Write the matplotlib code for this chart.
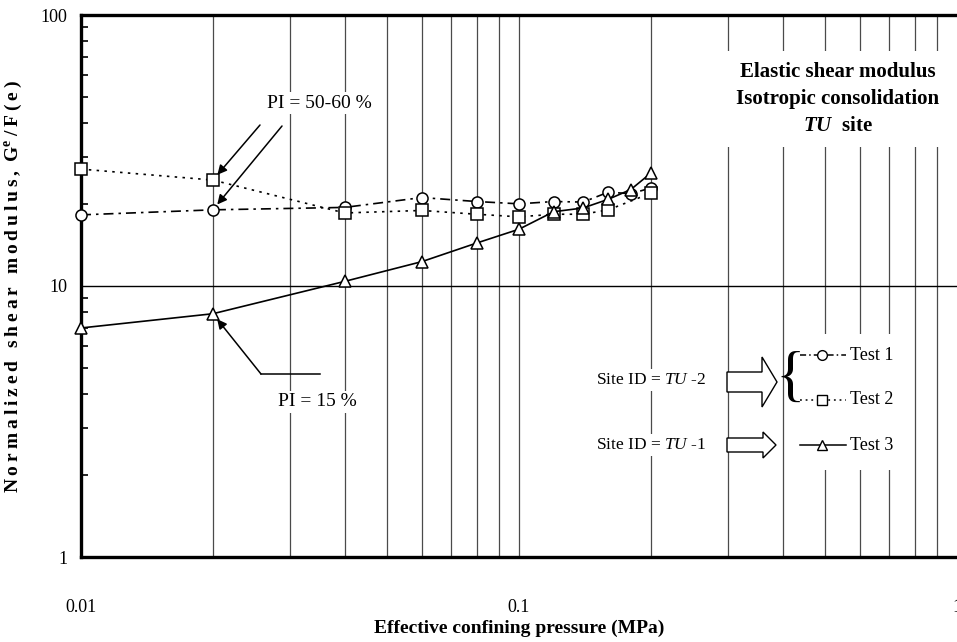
import numpy as np
import matplotlib.pyplot as plt
from matplotlib.patches import Polygon, Rectangle
from matplotlib.ticker import LogLocator, NullFormatter, FixedFormatter, FixedLocator

plt.rcParams['font.family'] = ['Liberation Serif', 'DejaVu Serif']
plt.rcParams['mathtext.fontset'] = 'custom'
plt.rcParams['mathtext.rm'] = 'Liberation Serif'
plt.rcParams['mathtext.it'] = 'Liberation Serif:italic'
plt.rcParams['mathtext.bf'] = 'Liberation Serif:bold'
plt.rcParams['mathtext.bfit'] = 'Liberation Serif:italic:bold'

# effective confining pressure (MPa) and normalized shear modulus
p_test1 = [0.01, 0.02, 0.04, 0.06, 0.08, 0.10, 0.12, 0.14, 0.16, 0.18, 0.20]
g_test1 = [18.3, 19.1, 19.5, 21.2, 20.5, 20.1, 20.5, 20.4, 22.2, 21.9, 23.0]

p_test2 = [0.01, 0.02, 0.04, 0.06, 0.08, 0.10, 0.12, 0.14, 0.16, 0.20]
g_test2 = [27.0, 24.6, 18.6, 19.0, 18.4, 18.0, 18.4, 18.4, 19.1, 22.0]

p_test3 = [0.01, 0.02, 0.04, 0.06, 0.08, 0.10, 0.12, 0.14, 0.16, 0.18, 0.20]
g_test3 = [7.0, 7.9, 10.4, 12.3, 14.4, 16.2, 18.8, 19.4, 20.9, 22.7, 26.1]

x_ticks = [0.01, 0.1, 1]
x_ticklabels = ['0.01', '0.1', '1']
y_ticks = [1, 10, 100]
y_ticklabels = ['1', '10', '100']

fig = plt.figure(figsize=(9.57, 6.42), dpi=100)
ax = fig.add_axes([81 / 957, 85 / 642, 876 / 957, 542 / 642])
ax.set_xscale('log')
ax.set_yscale('log')
ax.set_xlim(0.01, 1)
ax.set_ylim(1, 100)

# grid: every decade subdivision vertically, only 10 horizontally
for d in [0.01, 0.1]:
    for k in range(1, 10):
        if d * k > 0.01:
            ax.axvline(d * k, color='#4a4a4a', lw=0.9, zorder=1)
ax.axhline(10, color='black', lw=1.0, zorder=1)

ax.xaxis.set_major_locator(FixedLocator(x_ticks))
ax.xaxis.set_major_formatter(FixedFormatter(x_ticklabels))
ax.xaxis.set_minor_locator(LogLocator(base=10, subs=np.arange(2, 10)))
ax.xaxis.set_minor_formatter(NullFormatter())
ax.yaxis.set_major_locator(FixedLocator(y_ticks))
ax.yaxis.set_major_formatter(FixedFormatter(y_ticklabels))
ax.yaxis.set_minor_locator(LogLocator(base=10, subs=np.arange(2, 10)))
ax.yaxis.set_minor_formatter(NullFormatter())

ax.tick_params(axis='x', which='both', length=0, pad=30, labelsize=13)
ax.tick_params(axis='y', which='major', length=0, pad=10, labelsize=13)
ax.tick_params(axis='y', which='minor', direction='in', length=5, width=1.2)

for s in ['left', 'top', 'bottom']:
    ax.spines[s].set_linewidth(2.4)
ax.spines['right'].set_visible(False)

mk = dict(markersize=8, markerfacecolor='white', markeredgecolor='black',
          markeredgewidth=1.1, color='black', lw=1.2, zorder=4, clip_on=False)
ax.plot(p_test1, g_test1, marker='o', dashes=(6, 3, 1.5, 3), **mk)
ax.plot(p_test2, g_test2, marker='s', dashes=(1.5, 3.2), **mk)
ax.plot(p_test3, g_test3, marker='^', ls='-', **mk)

ax.set_xlabel('Effective confining pressure (MPa)', fontsize=14,
              fontweight='bold', labelpad=3)
ylab = '\u2009'.join('Normalized shear modulus,') + '\u2009 G$^{\\mathbf{e}}$\u2009/\u2009F\u2009(\u2009e\u2009)'
ax.set_ylabel(ylab, fontsize=14, fontweight='bold', labelpad=12)

white = dict(facecolor='white', edgecolor='none', pad=2)
arr = dict(arrowstyle='-|>', color='black', lw=1.1, mutation_scale=14,
           shrinkA=0, shrinkB=5)

def ax_pt(px, py):
    return ((px - 81) / 876, (557 - py) / 542)

# PI labels and pointers
ax.text(*ax_pt(319, 103), 'PI = 50-60 %', transform=ax.transAxes, fontsize=14,
        ha='center', va='center', bbox=white, zorder=5)
ax.annotate('', xy=(p_test2[1], g_test2[1]), xytext=ax_pt(260, 125),
            textcoords='axes fraction', arrowprops=arr, zorder=6)
ax.annotate('', xy=(p_test1[1], g_test1[1]), xytext=ax_pt(282, 126),
            textcoords='axes fraction', arrowprops=arr, zorder=6)

ax.text(*ax_pt(317, 402), 'PI = 15 %', transform=ax.transAxes, fontsize=14,
        ha='center', va='center', bbox=white, zorder=5)
x0, y0 = ax_pt(261, 374)
x1, _ = ax_pt(320, 374)
ax.plot([x0, x1], [y0, y0], transform=ax.transAxes, color='black', lw=1.1, zorder=6)
ax.annotate('', xy=(p_test3[1], g_test3[1]), xytext=(x0, y0),
            textcoords='axes fraction', arrowprops=arr, zorder=6)

# heading block
ax.text(*ax_pt(838, 99),
        'Elastic shear modulus\nIsotropic consolidation\n$\\mathbfit{TU}$  site',
        transform=ax.transAxes, fontsize=15, fontweight='bold', ha='center',
        va='center', linespacing=1.45, bbox=dict(facecolor='white', edgecolor='none', pad=8),
        zorder=5)

# site identifiers with hollow block arrows
ax.text(*ax_pt(651, 380), 'Site ID = $\\mathit{TU}$ -2', transform=ax.transAxes,
        fontsize=12.5, ha='center', va='center', bbox=white, zorder=5)
ax.text(*ax_pt(651, 445), 'Site ID = $\\mathit{TU}$ -1', transform=ax.transAxes,
        fontsize=12.5, ha='center', va='center', bbox=white, zorder=5)

def block_arrow(xl, xn, xt, yc, hs, hh):
    pts = [(xl, yc - hs), (xn, yc - hs), (xn, yc - hh), (xt, yc),
           (xn, yc + hh), (xn, yc + hs), (xl, yc + hs)]
    pts = [ax_pt(px, py) for px, py in pts]
    ax.add_patch(Polygon(pts, closed=True, transform=ax.transAxes,
                         facecolor='white', edgecolor='black', lw=1.0, zorder=6))

block_arrow(727, 762, 777, 382, 10, 25)
block_arrow(727, 763, 776, 445, 7, 13)

# legend panel
ax.add_patch(Rectangle(ax_pt(790, 470), 120 / 876, 136 / 542, transform=ax.transAxes,
                       facecolor='white', edgecolor='none', zorder=4.5))
ax.text(*ax_pt(790, 380), '{', transform=ax.transAxes, fontsize=44,
        ha='center', va='center', zorder=6)

leg_y = [355, 400, 445]
leg_m = ['o', 's', '^']
leg_ls = [dict(dashes=(4, 2, 1, 2)), dict(dashes=(1.2, 2.5)), dict(ls='-')]
leg_t = ['Test 1', 'Test 2', 'Test 3']
for yy, m, ls, t in zip(leg_y, leg_m, leg_ls, leg_t):
    xa, ya = ax_pt(800, yy)
    xb, _ = ax_pt(846, yy)
    xm, _ = ax_pt(822, yy)
    ax.plot([xa, xb], [ya, ya], transform=ax.transAxes, color='black', lw=1.1,
            zorder=6, **ls)
    ax.plot([xm], [ya], transform=ax.transAxes, marker=m, markersize=7,
            markerfacecolor='white', markeredgecolor='black', markeredgewidth=1.0,
            zorder=7)
    ax.text(*ax_pt(850, yy), t, transform=ax.transAxes, fontsize=13,
            ha='left', va='center', zorder=7)

fig.savefig('out.png', dpi=100)
